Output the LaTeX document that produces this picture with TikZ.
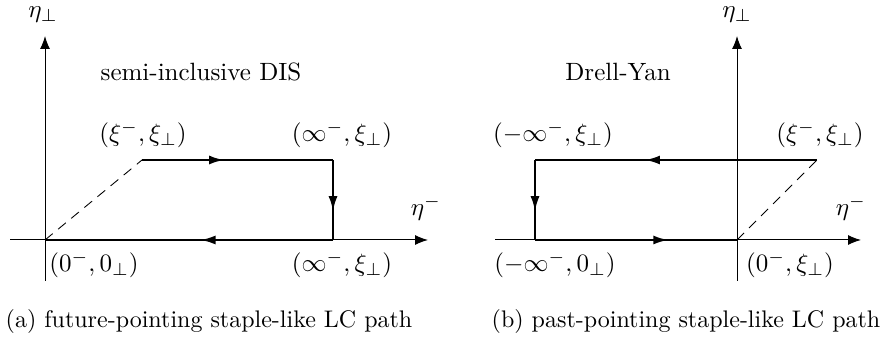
\documentclass[tikz,border=0pt]{standalone}
\usetikzlibrary{arrows.meta,decorations.markings}
\begin{document}
\begin{tikzpicture}[x=0.4pt,y=-0.4pt,
  axis/.style={line width=0.4pt,-{Latex[length=5.2pt,width=4pt]}},
  wline/.style={line width=0.9pt},
  dline/.style={line width=0.35pt,dash pattern=on 4pt off 2.8pt},
  lbl/.style={inner sep=0pt,anchor=center},
  caplbl/.style={inner sep=0pt,anchor=center,scale=0.96},
  midarrow/.style={postaction={decorate},decoration={markings,mark=at position #1 with {\arrow{Latex[length=6pt,width=3.6pt]}}}}
]
\useasboundingbox (0,0) rectangle (891,344);
% ---------- left diagram ----------
\coordinate (O1) at (45,240);
\coordinate (A1) at (142,160);
\coordinate (B1) at (333,160);
\coordinate (C1) at (333,240);
\coordinate (xs1) at (10,240);
\coordinate (xe1) at (428,240);
\coordinate (ys1) at (45,281);
\coordinate (ye1) at (45,36);
\draw[axis] (xs1) -- (xe1);
\draw[axis] (ys1) -- (ye1);
\draw[dline] (O1) -- (A1);
\draw[wline,midarrow=0.43] (A1) -- (B1);
\draw[wline,midarrow=0.64] (B1) -- (C1);
\draw[wline,midarrow=0.46] (C1) -- (O1);
\node[lbl] (eperp1) at (43,15) {$\eta_\perp$};
\node[lbl] (title1) at (201,72) {semi-inclusive DIS};
\node[lbl] (la1) at (143,135) {$(\xi^-,\xi_\perp)$};
\node[lbl] (lb1) at (342,135) {$(\infty^-,\xi_\perp)$};
\node[lbl] (em1) at (426,208) {$\eta^-$};
\node[lbl] (lo1) at (94,265) {$(0^-,0_\perp)$};
\node[lbl] (lc1) at (342,265) {$(\infty^-,\xi_\perp)$};
\node[caplbl] (cap1) at (209,322) {(a) future-pointing staple-like LC path};
% ---------- right diagram ----------
\coordinate (O2) at (737,240);
\coordinate (A2) at (817,160);
\coordinate (B2) at (535,160);
\coordinate (C2) at (535,240);
\coordinate (xs2) at (495,240);
\coordinate (xe2) at (861,240);
\coordinate (ys2) at (737,281);
\coordinate (ye2) at (737,36);
\draw[axis] (xs2) -- (xe2);
\draw[axis] (ys2) -- (ye2);
\draw[dline] (O2) -- (A2);
\draw[wline,midarrow=0.61] (A2) -- (B2);
\draw[wline,midarrow=0.64] (B2) -- (C2);
\draw[wline,midarrow=0.66] (C2) -- (O2);
\node[lbl] (eperp2) at (737,15) {$\eta_\perp$};
\node[lbl] (title2) at (618,72) {Drell-Yan};
\node[lbl] (la2) at (553,135) {$(-\infty^-,\xi_\perp)$};
\node[lbl] (lb2) at (820,135) {$(\xi^-,\xi_\perp)$};
\node[lbl] (em2) at (851,208) {$\eta^-$};
\node[lbl] (lo2) at (555,265) {$(-\infty^-,0_\perp)$};
\node[lbl] (lc2) at (790,265) {$(0^-,\xi_\perp)$};
\node[caplbl] (cap2) at (686,322) {(b) past-pointing staple-like LC path};
\end{tikzpicture}
\end{document}
